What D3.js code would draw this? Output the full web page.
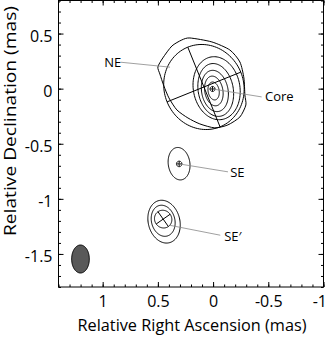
<!DOCTYPE html>
<html>
<head>
<meta charset="utf-8">
<script src="https://cdn.jsdelivr.net/npm/d3@7"></script>
<style>
  body { margin: 0; background: #fff; }
  text { font-family: "Open Sans", sans-serif; fill: #000; }
</style>
</head>
<body>
<svg id="chart" width="327" height="337"></svg>
<script>
// axis ticks (mas)
var xTicks = [1, 0.5, 0, -0.5, -1];
var yTicks = [0.5, 0, -0.5, -1, -1.5];

// lowest contour around core + NE (RA, Dec in mas)
var outerContour = [
  [0.210, 0.460], [0.011, 0.424], [-0.152, 0.351], [-0.243, 0.242],
  [-0.279, 0.097], [-0.288, -0.057], [-0.297, -0.148], [-0.243, -0.257],
  [-0.134, -0.329], [-0.016, -0.356], [0.120, -0.320], [0.228, -0.266],
  [0.328, -0.193], [0.400, -0.084], [0.446, 0.025], [0.482, 0.133],
  [0.500, 0.197], [0.455, 0.279], [0.373, 0.387], [0.283, 0.442]
];

// other contours as ellipses: [ra, dec, semiRA, semiDec, tilt deg]
var coreContours = [
  [-0.032, 0.004, 0.211, 0.288, 10],
  [-0.024, -0.012, 0.159, 0.242, 10],
  [-0.016, -0.021, 0.120, 0.189, 10],
  [-0.007, -0.021, 0.082, 0.136, 10],
  [-0.005, -0.021, 0.050, 0.082, 10]
];
var seContours = [
  [0.308, -0.681, 0.098, 0.148, 8]
];
var sePrimeContours = [
  [0.444, -1.207, 0.143, 0.197, 14],
  [0.452, -1.199, 0.106, 0.143, 14]
];

// model components
var compNames = ["NE", "Core", "SE", "SE\u2032"];
var compRa    = [0.083, 0.005, 0.307, 0.452];
var compDec   = [0.015, -0.003, -0.683, -1.184];
var compSemiRa  = [0.360, 0.023, 0.025, 0.077];
var compSemiDec = [0.390, 0.023, 0.025, 0.082];
var compTilt    = [22, 0, 0, 35];
// label positions
var labelRa   = [0.985, -0.470, -0.155, -0.100];
var labelDec  = [0.240, -0.075, -0.760, -1.345];
var lineEndRa  = [0.838, -0.440, -0.135, -0.065];
var lineEndDec = [0.240, -0.075, -0.755, -1.330];
var lineStartRa  = [0.390, 0.005, 0.307, 0.392];
var lineStartDec = [0.195, -0.003, -0.683, -1.240];

// restoring beam
var beam = [1.201, -1.546, 0.080, 0.127, 0];

var margin = {top: 0.5, left: 58.5},
    width = 265, height = 286.5;

var svg = d3.select("#chart");
var g = svg.append("g");

var x = d3.scaleLinear().domain([1.4, -1]).range([margin.left, margin.left + width]);
var y = d3.scaleLinear().domain([0.8, -1.8]).range([margin.top, margin.top + height]);

var minorX = d3.range(-10, 15).map(function(d) { return d / 10; });
var minorY = d3.range(-18, 9).map(function(d) { return d / 10; });
var fmt = function(d) { return d3.format("")(d).replace("\u2212", "-"); };

function drawAxis(axis, tx, ty, labels) {
  var a = g.append("g")
    .attr("transform", "translate(" + tx + "," + ty + ")")
    .call(axis);
  a.select(".domain").remove();
  a.selectAll("line").attr("stroke", "#000").attr("stroke-width", 1);
  if (!labels) a.selectAll("text").remove();
  return a;
}

// minor ticks
drawAxis(d3.axisBottom(x).tickValues(minorX).tickSize(-2.5).tickFormat(""), 0, margin.top + height, false);
drawAxis(d3.axisTop(x).tickValues(minorX).tickSize(-2.5).tickFormat(""), 0, margin.top, false);
drawAxis(d3.axisLeft(y).tickValues(minorY).tickSize(-2.5).tickFormat(""), margin.left, 0, false);
drawAxis(d3.axisRight(y).tickValues(minorY).tickSize(-2.5).tickFormat(""), margin.left + width, 0, false);

// major ticks
var xb = drawAxis(d3.axisBottom(x).tickValues(xTicks).tickSize(-5).tickPadding(9).tickFormat(fmt), 0, margin.top + height, true);
drawAxis(d3.axisTop(x).tickValues(xTicks).tickSize(-5), 0, margin.top, false);
var yl = drawAxis(d3.axisLeft(y).tickValues(yTicks).tickSize(-5).tickPadding(6).tickFormat(fmt), margin.left, 0, true);
drawAxis(d3.axisRight(y).tickValues(yTicks).tickSize(-5), margin.left + width, 0, false);

xb.selectAll("text").style("font-family", "'Open Sans', sans-serif").attr("font-size", 16)
  .attr("text-anchor", function(d) { return d === -1 ? "end" : "middle"; })
  .attr("dx", function(d) { return d === -1 ? 3 : 0; });
yl.selectAll("text").style("font-family", "'Open Sans', sans-serif").attr("font-size", 16).attr("dy", "0.5em");

// frame
g.append("rect")
  .attr("x", margin.left).attr("y", margin.top)
  .attr("width", width).attr("height", height)
  .attr("fill", "none").attr("stroke", "#000").attr("stroke-width", 1);

// axis titles
g.append("text")
  .attr("x", 192).attr("y", 331)
  .attr("text-anchor", "middle").attr("font-size", 16)
  .attr("textLength", 229).attr("lengthAdjust", "spacingAndGlyphs")
  .text("Relative Right Ascension (mas)");
g.append("text")
  .attr("transform", "translate(16,121) rotate(-90)")
  .attr("text-anchor", "middle").attr("font-size", 16)
  .attr("textLength", 230).attr("lengthAdjust", "spacingAndGlyphs")
  .text("Relative Declination (mas)");

var line = d3.line().x(function(d) { return x(d[0]); }).y(function(d) { return y(d[1]); });

function ellipse(cx, cy, rx, ry, tilt) {
  var t = tilt * Math.PI / 180;
  return d3.range(0, 2 * Math.PI, Math.PI / 60).map(function(a) {
    var u = rx * Math.cos(a), v = ry * Math.sin(a);
    return [cx + u * Math.cos(t) + v * Math.sin(t), cy - u * Math.sin(t) + v * Math.cos(t)];
  });
}

var plot = g.append("g").attr("fill", "none").attr("stroke", "#000").attr("stroke-width", 1);

plot.append("path")
  .attr("d", line.curve(d3.curveCardinalClosed.tension(0.3))(outerContour));

line.curve(d3.curveLinearClosed);
coreContours.concat(seContours, sePrimeContours).forEach(function(c) {
  plot.append("path").attr("d", line(ellipse(c[0], c[1], c[2], c[3], c[4])));
});

// components: ellipse + cross
compNames.forEach(function(n, i) {
  var cx = compRa[i], cy = compDec[i], rx = compSemiRa[i], ry = compSemiDec[i];
  var t = compTilt[i] * Math.PI / 180;
  plot.append("path").attr("d", line(ellipse(cx, cy, rx, ry, compTilt[i])));
  var lin = d3.line().x(function(d) { return x(d[0]); }).y(function(d) { return y(d[1]); });
  plot.append("path").attr("d", lin([
    [cx - ry * Math.sin(t), cy - ry * Math.cos(t)],
    [cx + ry * Math.sin(t), cy + ry * Math.cos(t)]
  ]));
  plot.append("path").attr("d", lin([
    [cx - rx * Math.cos(t), cy + rx * Math.sin(t)],
    [cx + rx * Math.cos(t), cy - rx * Math.sin(t)]
  ]));
});

// labels with leader lines
compNames.forEach(function(n, i) {
  g.append("line")
    .attr("x1", x(lineStartRa[i])).attr("y1", y(lineStartDec[i]))
    .attr("x2", x(lineEndRa[i])).attr("y2", y(lineEndDec[i]))
    .attr("stroke", "#888").attr("stroke-width", 0.8);
  g.append("text")
    .attr("x", x(labelRa[i])).attr("y", y(labelDec[i]))
    .attr("dy", "0.35em").attr("font-size", 13)
    .text(n);
});

// beam
g.append("path")
  .attr("d", line(ellipse(beam[0], beam[1], beam[2], beam[3], beam[4])))
  .attr("fill", "#595959").attr("stroke", "#000").attr("stroke-width", 1);
</script>
</body>
</html>
